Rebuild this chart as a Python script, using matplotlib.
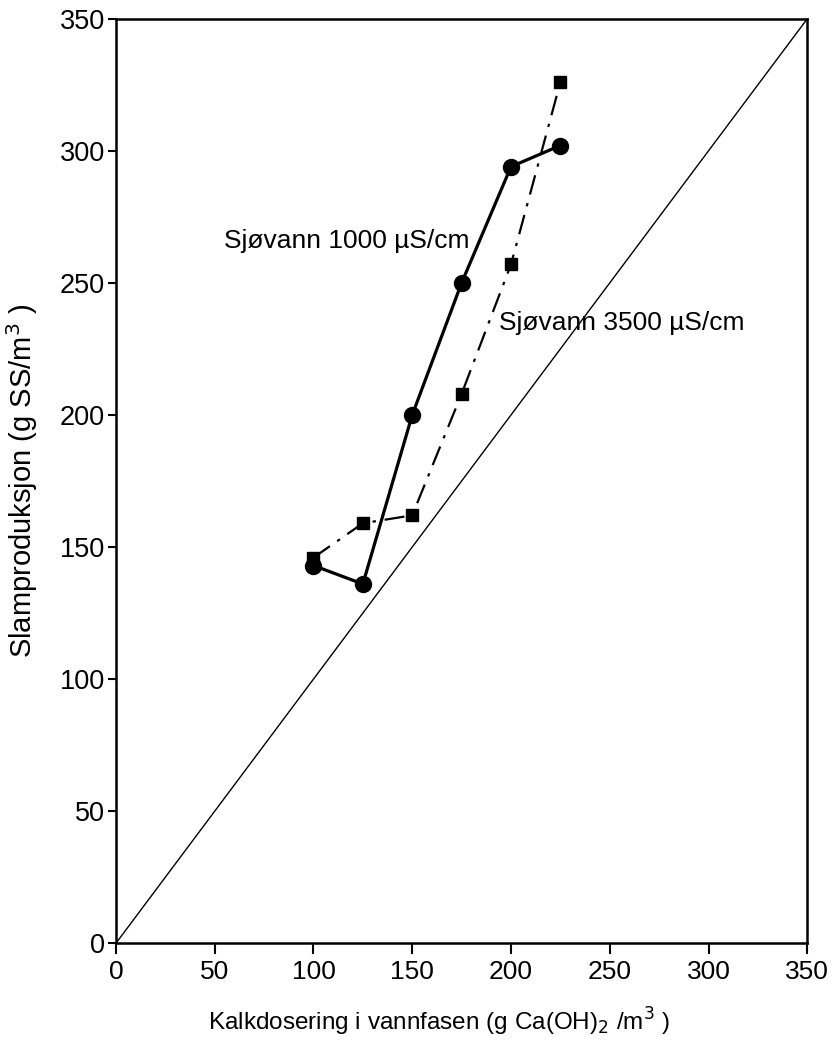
import numpy as np
import matplotlib.pyplot as plt

# Kalkdosering (x) og slamproduksjon (y)
dose = [100, 125, 150, 175, 200, 225]
slam_1000 = [143, 136, 200, 250, 294, 302]
slam_3500 = [146, 159, 162, 208, 257, 326]
ref_line = [0, 350]

xticks = [0, 50, 100, 150, 200, 250, 300, 350]
yticks = [0, 50, 100, 150, 200, 250, 300, 350]

plt.rcParams['font.family'] = ['Liberation Sans', 'DejaVu Sans']

fig = plt.figure(figsize=(8.34, 10.4), dpi=100)
ax = fig.add_axes([0.139, 0.093, 0.829, 0.889])

# 1:1 linje
ax.plot(ref_line, ref_line, color='black', lw=1.0)

ax.plot(dose, slam_1000, color='black', lw=2.3, marker='o', ms=11.5,
        solid_capstyle='round')
ax.plot(dose, slam_3500, color='black', lw=1.6, marker='s', ms=9,
        linestyle=(0, (9, 4, 1.5, 4)))

ax.text(117, 266, 'Sjøvann 1000 µS/cm', fontsize=19, ha='center', va='center')
ax.text(194, 235, 'Sjøvann 3500 µS/cm', fontsize=19, ha='left', va='center')

ax.set_xlim(0, 350)
ax.set_ylim(0, 350)
ax.set_xticks(xticks)
ax.set_yticks(yticks)
ax.tick_params(axis='x', direction='out', length=8, width=1.5, labelsize=19, pad=4)
ax.tick_params(axis='y', direction='out', length=6, width=1.5, labelsize=19.5, pad=2)
for lab in ax.get_xticklabels():
    lab.set_family(['Liberation Sans Narrow', 'Liberation Sans'])

for sp in ax.spines.values():
    sp.set_linewidth(1.8)

ax.set_xlabel('Kalkdosering i vannfasen (g Ca(OH)$_2$ /m$^3$ )', fontsize=17.5,
              family=['Liberation Sans Narrow', 'Liberation Sans'])
ax.xaxis.set_label_coords(0.467, -0.068)
ax.set_ylabel('Slamproduksjon (g SS/m$^3$ )', fontsize=21)
ax.yaxis.set_label_coords(-0.11, 0.5)

fig.savefig('out.png', dpi=100)
